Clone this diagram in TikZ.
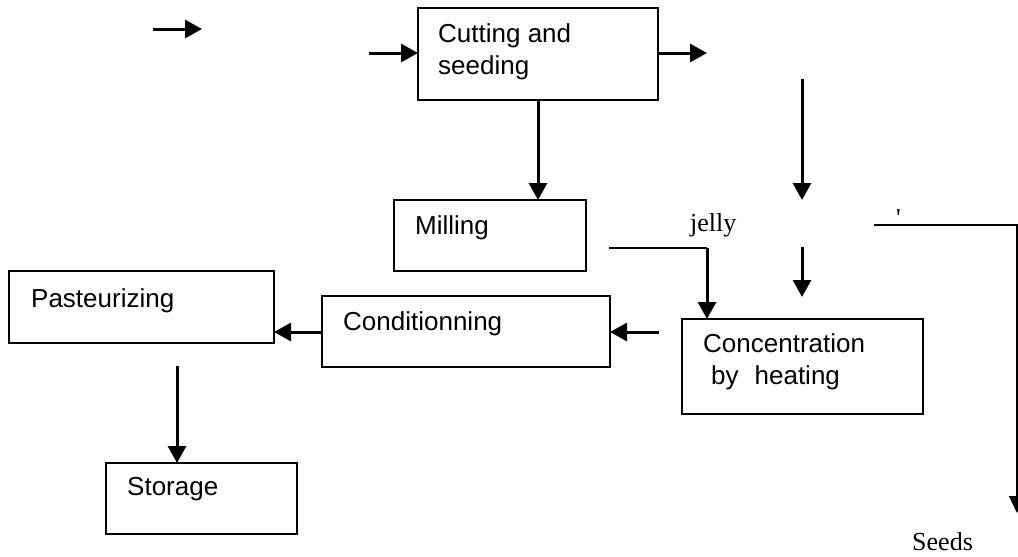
\documentclass[tikz,border=0pt]{standalone}
\usepackage{fontspec}
\setmainfont{Liberation Serif}
\newfontfamily\arialf{Liberation Sans}
\usetikzlibrary{arrows.meta}
\begin{document}
\begin{tikzpicture}[x=1pt,y=-1pt,
  box/.style={draw,line width=1.5pt,inner sep=0pt,outer sep=0pt,anchor=north west},
  lbl/.style={font=\arialf\fontsize{26}{30}\selectfont,anchor=base west,inner sep=0pt},
  note/.style={font=\fontsize{26}{30}\selectfont,anchor=base west,inner sep=0pt},
  flow/.style={line width=3pt,-{Triangle[length=17pt,width=18pt]}},
  thinline/.style={line width=1.3pt},
  thinflow/.style={line width=1.3pt,-{Triangle[length=17pt,width=16pt]}}]
\useasboundingbox (0,0) rectangle (1018,557);
% boxes
\node[box,minimum width=240pt,minimum height=92pt] (cut) at (418,8) {};
\node[box,minimum width=192pt,minimum height=71pt] (mill) at (394,200) {};
\node[box,minimum width=265pt,minimum height=72pt] (past) at (9,271) {};
\node[box,minimum width=288pt,minimum height=71pt] (cond) at (322,296) {};
\node[box,minimum width=241pt,minimum height=95pt] (conc) at (682,319) {};
\node[box,minimum width=191pt,minimum height=71pt] (stor) at (106,463) {};
% box texts
\node[lbl] (cutA) at (438,42) {Cutting and};
\node[lbl] (cutB) at (438,74) {seeding};
\node[lbl] (millT) at (415,234) {Milling};
\node[lbl] (pastT) at (31,307) {Pasteurizing};
\node[lbl] (condT) at (343,330) {Conditionning};
\node[lbl] (concA) at (703,352) {Concentration};
\node[lbl] (concB) at (711,384) {by\hspace{16pt}heating};
\node[lbl] (storT) at (127,495) {Storage};
% free labels
\node[note] (jelly) at (690,231) {jelly};
\node[note] (tick) at (896,226) {\textquotesingle};
\node[note] (seeds) at (912,550) {Seeds};
% free-end coordinates
\coordinate (a0s) at (153,29);
\coordinate (a0e) at (202,29);
\coordinate (inS) at (369,53);
\coordinate (outE) at (707,53);
\coordinate (r1s) at (802,79);
\coordinate (r1e) at (802,200);
\coordinate (r2s) at (802,247);
\coordinate (r2e) at (802,297);
\coordinate (jS) at (609,248);
\coordinate (jC) at (707,248);
\coordinate (cS) at (659,332);
\coordinate (pS) at (177,366);
\coordinate (sS) at (874,225);
\coordinate (sC) at (1017,225);
\coordinate (sE) at (1017,513);
% connectors
\draw[flow] (a0s) -- (a0e);
\draw[flow] (inS) -- (inS -| cut.west);
\draw[flow] (cut.east |- outE) -- (outE);
\draw[flow] (cut.south) -- (cut.south |- mill.north);
\draw[flow] (r1s) -- (r1e);
\draw[flow] (r2s) -- (r2e);
\draw[thinline] (jS) -- (jC);
\draw[flow] (jC) -- (jC |- conc.north);
\draw[flow] (cS) -- (cS -| cond.east);
\draw[flow] (cond.west |- cS) -- (cS -| past.east);
\draw[flow] (pS) -- (pS |- stor.north);
\draw[thinflow] (sS) -- (sC) -- (sE);
\end{tikzpicture}
\end{document}
